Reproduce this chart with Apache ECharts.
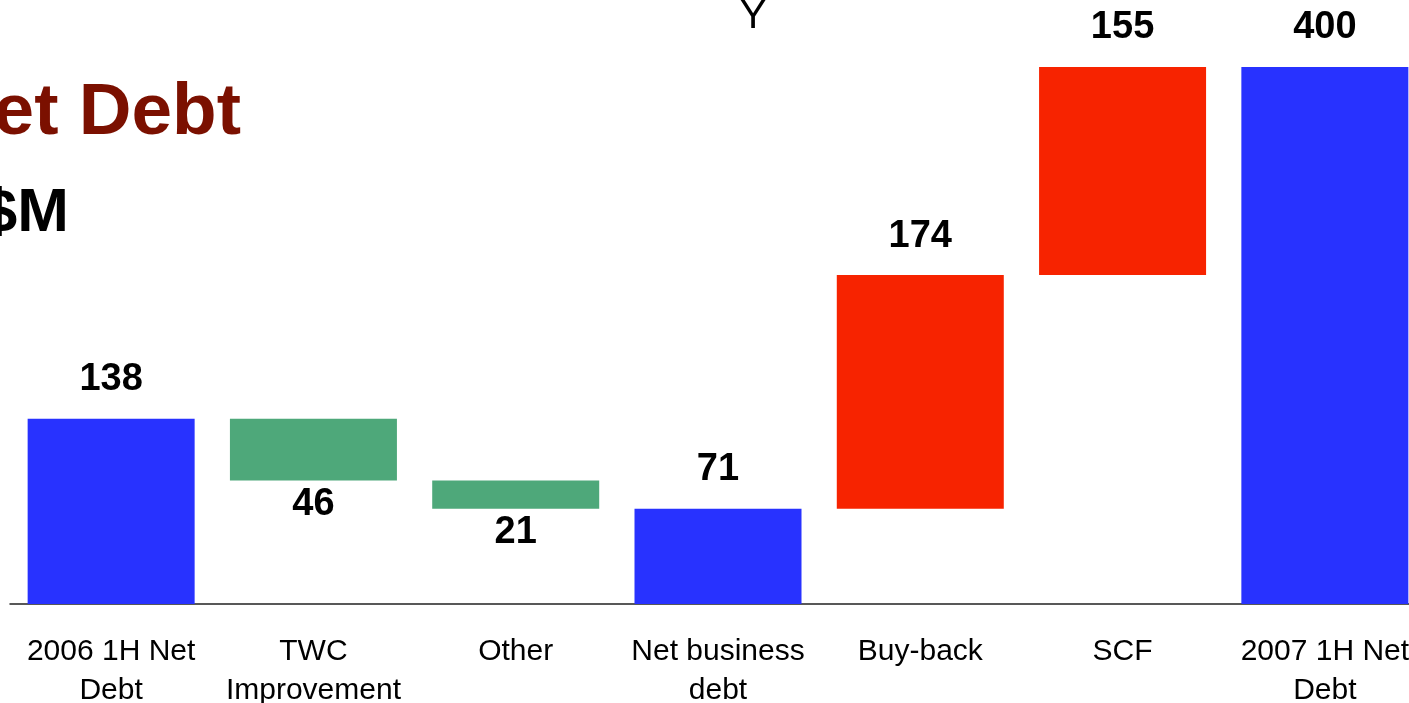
<!DOCTYPE html>
<html>
<head>
<meta charset="utf-8">
<script src="https://cdn.jsdelivr.net/npm/echarts@6/dist/echarts.min.js"></script>
<style>
html,body{margin:0;padding:0;overflow:hidden;background:#fff;}
#chart{width:1440px;height:703px;}
</style>
</head>
<body>
<div id="chart"></div>
<script>
const categories = ['2006 1H Net\nDebt', 'TWC\nImprovement', 'Other', 'Net business\ndebt', 'Buy-back', 'SCF', '2007 1H Net\nDebt'];
const amounts = [138, 46, 21, 71, 174, 155, 400];
const kinds = ['total', 'decrease', 'decrease', 'total', 'increase', 'increase', 'total'];
const colors = { total: '#2832FF', decrease: '#4EA87A', increase: '#F72300' };

const baseVals = [];
const barVals = [];
let running = 0;
amounts.forEach((v, i) => {
  const k = kinds[i];
  if (k === 'total') { baseVals.push(0); running = v; }
  else if (k === 'decrease') { running -= v; baseVals.push(running); }
  else { baseVals.push(running); running += v; }
  barVals.push({
    value: v,
    itemStyle: { color: colors[k] },
    label: { position: k === 'decrease' ? 'bottom' : 'top', distance: k === 'decrease' ? 5 : 20 }
  });
});

const chart = echarts.init(document.getElementById('chart'), null, { renderer: 'canvas' });
chart.setOption({
  animation: false,
  grid: { left: 10, width: 1416, top: 67, height: 537, containLabel: false, outerBoundsMode: 'none' },
  xAxis: {
    type: 'category',
    data: categories,
    axisLine: { lineStyle: { color: '#222', width: 1.5 } },
    axisTick: { show: false },
    axisLabel: {
      interval: 0, margin: 28, fontSize: 30, lineHeight: 39,
      color: '#000', fontFamily: 'Liberation Sans, Arial, sans-serif'
    }
  },
  yAxis: { type: 'value', min: 0, max: 400, show: false, splitLine: { show: false } },
  series: [
    {
      type: 'bar', stack: 'w', data: baseVals, barWidth: 167,
      itemStyle: { color: 'transparent' }, silent: true
    },
    {
      type: 'bar', stack: 'w', data: barVals, barWidth: 167,
      label: {
        show: true, color: '#000', fontSize: 38, fontWeight: 'bold',
        fontFamily: 'Liberation Sans, Arial, sans-serif'
      }
    }
  ],
  graphic: [
    {
      type: 'text', x: 241, y: 150,
      style: {
        text: 'Net Debt', align: 'right', verticalAlign: 'bottom',
        font: 'bold 73px "Liberation Sans", Arial, sans-serif', fill: '#7B1000'
      }
    },
    {
      type: 'text', x: 69, y: 245,
      style: {
        text: 'US$M', align: 'right', verticalAlign: 'bottom',
        font: 'bold 62px "Liberation Sans", Arial, sans-serif', fill: '#000'
      }
    },
    {
      type: 'text', x: 753, y: 37,
      style: {
        text: 'Y', align: 'center', verticalAlign: 'bottom',
        font: '40px "Liberation Sans", Arial, sans-serif', fill: '#000'
      }
    }
  ]
});
</script>
</body>
</html>
